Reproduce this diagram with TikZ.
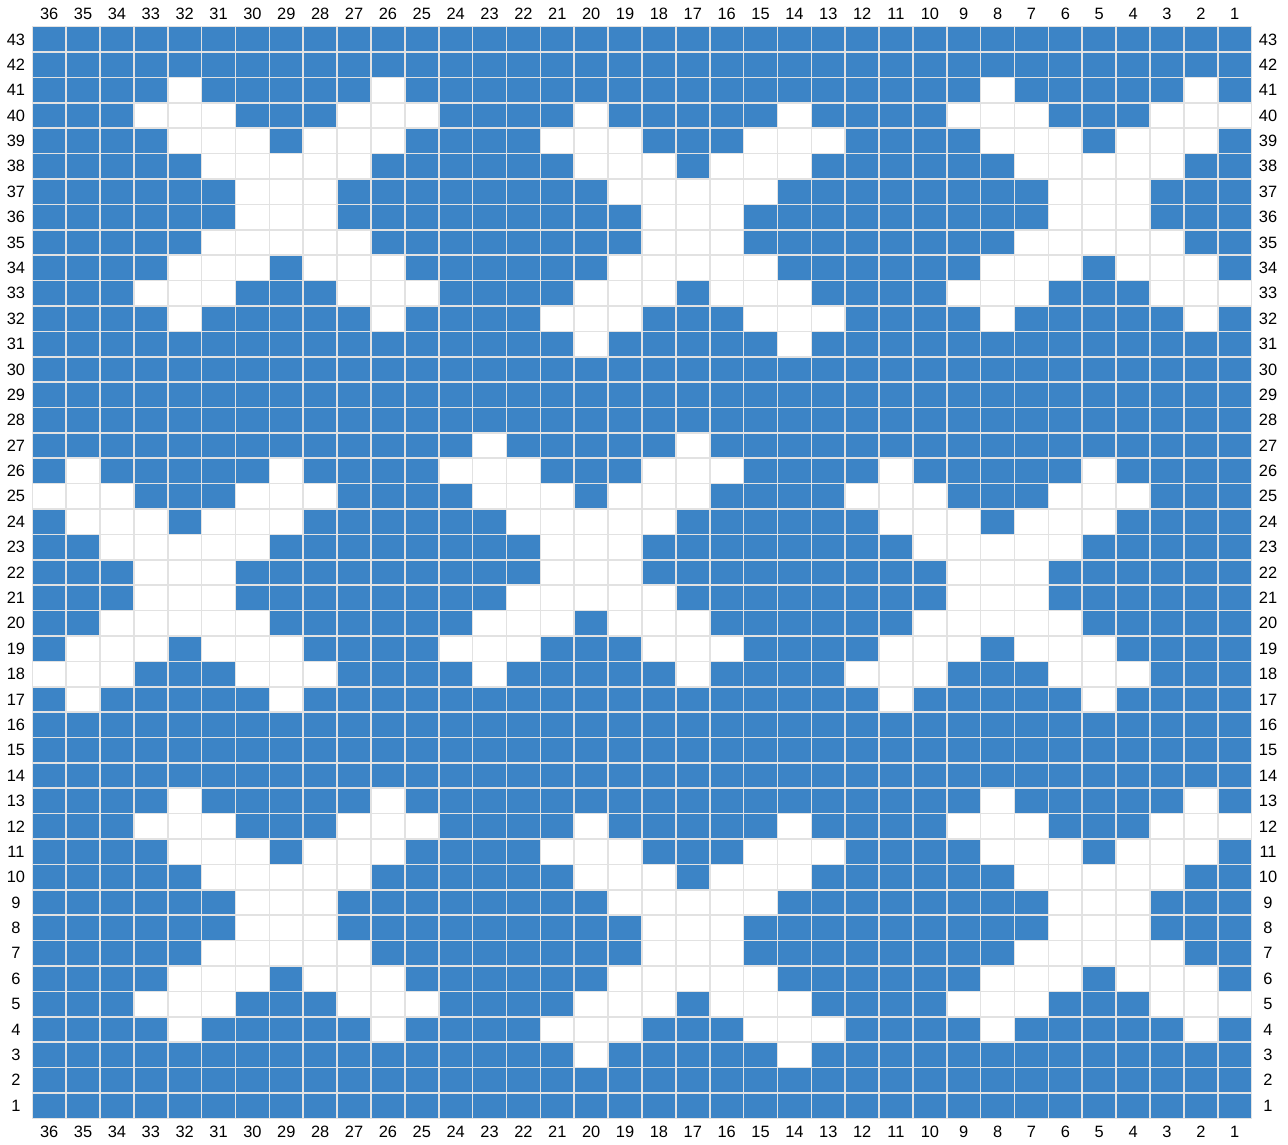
\documentclass[tikz,border=0pt]{standalone}
\usepackage{fontspec}
\setmainfont{Liberation Sans}
\usepackage{xcolor}
\usepackage{tikz}
\definecolor{chartblue}{HTML}{3C84C6}
\definecolor{gridgray}{HTML}{E2E2E2}
\tikzset{
  knitcell/.style={
    fill=chartblue
  },
  gapcell/.style={
    fill=white
  },
  gridline/.style={
    draw=gridgray,
    line width=0.8pt
  },
  collabel/.style={
    inner sep=0pt,
    font=\fontsize{8.2}{9}\selectfont
  },
  rowlabel/.style={
    collabel
  }
}
% cell width / height and lower left corner of the chart
\def\cw{33.87}
\def\ch{25.386}
\def\gx{32.3}
\def\gy{25.7}

\begin{document}
\begin{tikzpicture}[x=0.5pt,y=0.5pt]
    \useasboundingbox (0,0) rectangle (1288,1144);
    \fill[white] (0,0) rectangle (1288,1144);

    \fill[knitcell] (\gx,\gy) rectangle ({\gx+36*\cw},{\gy+43*\ch});

    % stars: top row and centre column of each motif
    \foreach \rtop/\ccen in {41/29, 40/17, 41/5, 26/32, 27/20, 26/8, 13/29, 12/17, 13/5} {
        \foreach \dy/\xs in {0/{-3,3}, 1/{-4,-3,-2,2,3,4}, 2/{-3,-2,-1,1,2,3},
                             3/{-2,-1,0,1,2}, 4/{-1,0,1}, 5/{-1,0,1}, 6/{-2,-1,0,1,2},
                             7/{-3,-2,-1,1,2,3}, 8/{-4,-3,-2,2,3,4}, 9/{-3,3}} {
            \foreach \dx in \xs {
                \fill[gapcell] ({\gx+(36-\ccen-\dx)*\cw},{\gy+(\rtop-\dy-1)*\ch})
                    rectangle ++(\cw,\ch);
            }
        }
    }

    \foreach \i in {0,...,36}
        \draw[gridline] ({\gx+\i*\cw},\gy) -- ++(0,{43*\ch});
    \foreach \j in {0,...,43}
        \draw[gridline] (\gx,{\gy+\j*\ch}) -- ++({36*\cw},0);

    \foreach \c in {1,...,36} {
        \node[collabel] (top-\c) at ({\gx+(36.5-\c)*\cw},1130) {\c};
        \node[collabel] (bottom-\c) at ({\gx+(36.5-\c)*\cw},12.5) {\c};
    }
    \foreach \r in {1,...,43} {
        \node[rowlabel] (left-\r) at (16,{\gy+(\r-0.5)*\ch}) {\r};
        \node[rowlabel] (right-\r) at (1268,{\gy+(\r-0.5)*\ch}) {\r};
    }
\end{tikzpicture}
\end{document}
